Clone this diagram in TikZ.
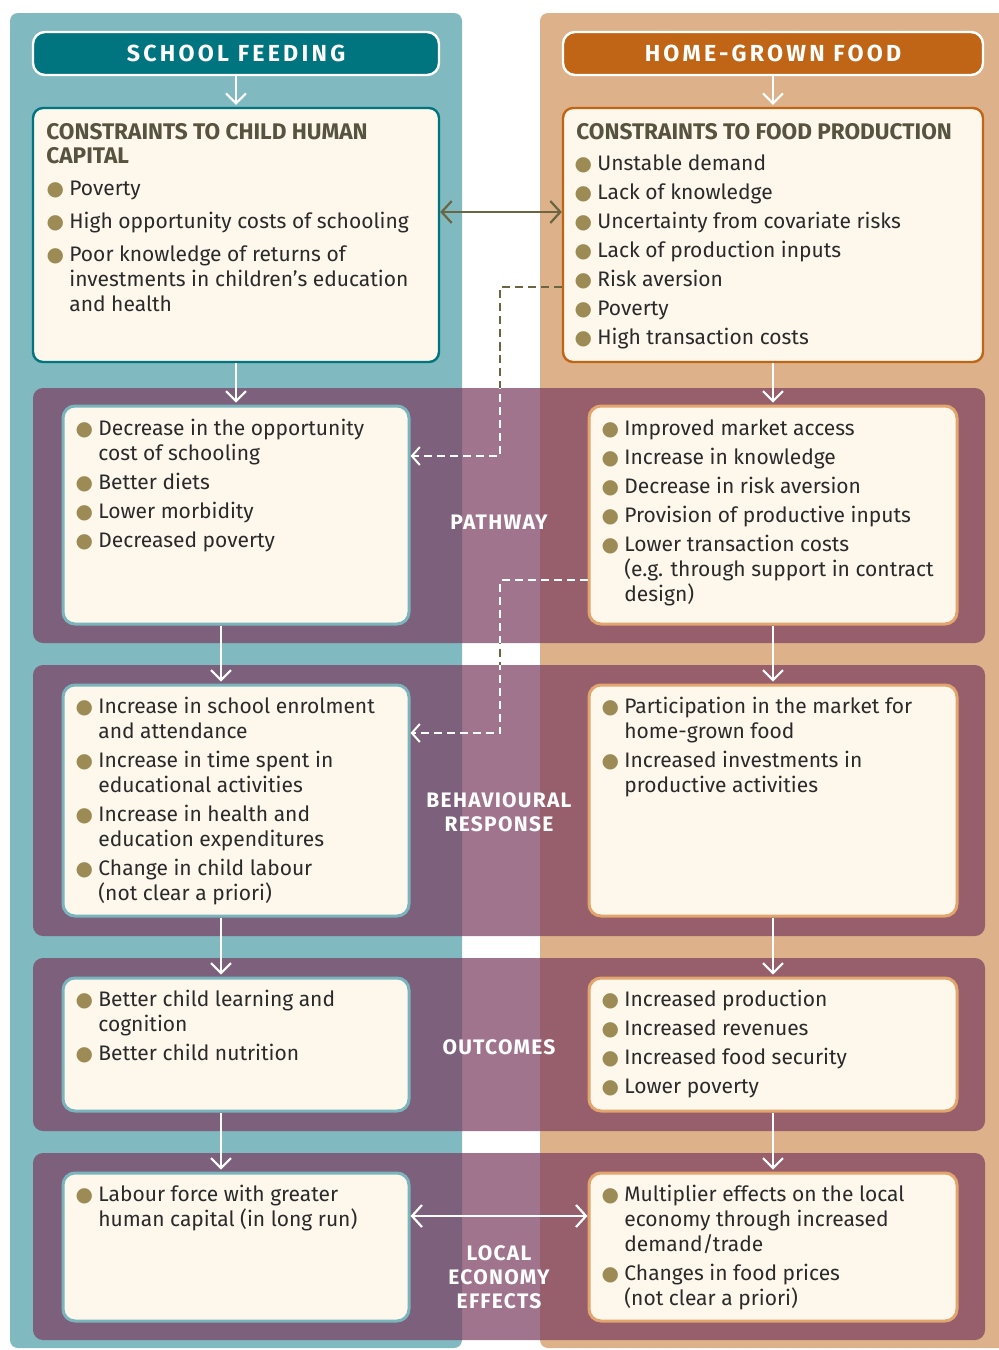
\documentclass[tikz,border=0pt]{standalone}
\usepackage{fontspec}
\setmainfont{Fira Sans}
\newfontfamily\headfont[LetterSpace=14]{Fira Sans}
\newfontfamily\bandfont[LetterSpace=6]{Fira Sans}
\newfontfamily\symfont{DejaVu Sans}
\usetikzlibrary{arrows.meta}
\definecolor{colteal}{HTML}{80B9C0}
\definecolor{coltan}{HTML}{DDB28A}
\definecolor{darkteal}{HTML}{00747F}
\definecolor{burnt}{HTML}{C06516}
\definecolor{cream}{HTML}{FDF7EC}
\definecolor{headgray}{HTML}{56533F}
\definecolor{bodytext}{HTML}{2A2A2A}
\definecolor{dotolive}{HTML}{9C8B55}
\definecolor{arrolive}{HTML}{6B6541}
\definecolor{bandpurple}{HTML}{7C3E61}
\definecolor{boxteal}{HTML}{7AB5BD}
\definecolor{boxtan}{HTML}{E2A56E}
\newcommand{\bul}{\makebox[6pt][c]{\textcolor{dotolive}{\symfont\fontsize{10}{10}\selectfont ●}}}
\newcommand{\blist}[1]{\begin{tabular}[t]{@{}l@{\hspace{4pt}}l@{}}#1\end{tabular}}
\newcommand{\hlines}[1]{\begin{tabular}[t]{@{}l@{}}#1\end{tabular}}
\tikzset{
    titlebox/.style={rectangle, draw=white, line width=1.2pt, rounded corners=6pt, minimum height=21.5pt, text=white, font=\headfont\bfseries\fontsize{11.6}{13}\selectfont},
    conbox/.style={rectangle, fill=cream, line width=1.2pt, rounded corners=5pt, minimum height=127pt},
    inbox/.style={rectangle, fill=cream, line width=1.5pt, rounded corners=6pt},
    band/.style={fill=bandpurple, fill opacity=0.72, rounded corners=5pt},
    bandlab/.style={text=white, align=center, font=\bandfont\bfseries\fontsize{10.5}{12}\selectfont},
    head/.style={anchor=base west, inner sep=0pt, text=headgray, font=\bfseries\fontsize{11.3}{12}\selectfont},
    txt/.style={anchor=base west, inner sep=0pt, text=bodytext, font=\fontsize{10.5}{12.5}\selectfont},
    arr/.style={white, line width=1pt, -{Straight Barb[length=5pt, width=10pt]}, shorten >=1pt},
    dbl/.style={line width=1.1pt, {Straight Barb[length=5pt, width=11pt]}-{Straight Barb[length=5pt, width=11pt]}},
    dashline/.style={dash pattern=on 4pt off 2.5pt, line width=1pt, -{Straight Barb[length=4pt, width=9pt]}},
}
\begin{document}
\begin{tikzpicture}[x=0.5pt, y=-0.5pt]
\useasboundingbox (0,0) rectangle (999,1350);
\clip (0,0) rectangle (999,1350);

% ── Columns ──
\fill[colteal, rounded corners=4pt] (10,13) rectangle (462,1348);
\fill[coltan, rounded corners=4pt] (540,13) rectangle (1010,1348);

% ── Bands ──
\fill[band] (33,388) rectangle (985,643);
\fill[band] (33,665) rectangle (985,936);
\fill[band] (33,958) rectangle (985,1131);
\fill[band] (33,1153) rectangle (985,1340);

\node[bandlab] (lpath) at (499,522) {PATHWAY};
\node[bandlab] (lbeh) at (499,812.5) {BEHAVIOURAL\\RESPONSE};
\node[bandlab] (lout) at (499,1047) {OUTCOMES};
\node[bandlab] (lloc) at (499,1277) {LOCAL\\ECONOMY\\EFFECTS};

% ── Titles ──
\node[titlebox, fill=darkteal, minimum width=203pt] (sf) at (236,53.5) {SCHOOL FEEDING};
\node[titlebox, fill=burnt, minimum width=210pt] (hg) at (773,53.5) {HOME-GROWN FOOD};

% ── Constraints ──
\node[conbox, draw=darkteal, minimum width=203pt] (cL) at (236,235) {};
\node[head] (cLh) at (46,139) {\hlines{CONSTRAINTS TO CHILD HUMAN\\CAPITAL}};
\node[txt] (cLt) at (49,195) {\blist{
\bul & Poverty\\[4pt]
\bul & High opportunity costs of schooling\\[4pt]
\bul & Poor knowledge of returns of\\
 & investments in children’s education\\
 & and health}};

\node[conbox, draw=burnt, minimum width=210pt] (cR) at (773,235) {};
\node[head] (cRh) at (576,139) {\hlines{CONSTRAINTS TO FOOD PRODUCTION}};
\node[txt] (cRt) at (577,170) {\blist{
\bul & Unstable demand\\[2pt]
\bul & Lack of knowledge\\[2pt]
\bul & Uncertainty from covariate risks\\[2pt]
\bul & Lack of production inputs\\[2pt]
\bul & Risk aversion\\[2pt]
\bul & Poverty\\[2pt]
\bul & High transaction costs}};

% ── Pathway ──
\node[inbox, draw=boxteal, minimum width=173pt, minimum height=109pt] (p1) at (236,515) {};
\node[txt] (p1t) at (78,435) {\blist{
\bul & Decrease in the opportunity\\
 & cost of schooling\\[2pt]
\bul & Better diets\\[2pt]
\bul & Lower morbidity\\[2pt]
\bul & Decreased poverty}};

\node[inbox, draw=boxtan, minimum width=184pt, minimum height=109pt] (p2) at (773,515) {};
\node[txt] (p2t) at (604,435) {\blist{
\bul & Improved market access\\[2pt]
\bul & Increase in knowledge\\[2pt]
\bul & Decrease in risk aversion\\[2pt]
\bul & Provision of productive inputs\\[2pt]
\bul & Lower transaction costs\\
 & (e.g. through support in contract\\
 & design)}};

% ── Behavioural response ──
\node[inbox, draw=boxteal, minimum width=173pt, minimum height=115.5pt] (b1) at (236,800.5) {};
\node[txt] (b1t) at (78,713) {\blist{
\bul & Increase in school enrolment\\
 & and attendance\\[2pt]
\bul & Increase in time spent in\\
 & educational activities\\[2pt]
\bul & Increase in health and\\
 & education expenditures\\[2pt]
\bul & Change in child labour\\
 & (not clear a priori)}};

\node[inbox, draw=boxtan, minimum width=184pt, minimum height=115.5pt] (b2) at (773,800.5) {};
\node[txt] (b2t) at (604,713) {\blist{
\bul & Participation in the market for\\
 & home-grown food\\[2pt]
\bul & Increased investments in\\
 & productive activities}};

% ── Outcomes ──
\node[inbox, draw=boxteal, minimum width=173pt, minimum height=66.5pt] (o1) at (236,1044.5) {};
\node[txt] (o1t) at (78,1006) {\blist{
\bul & Better child learning and\\
 & cognition\\[2pt]
\bul & Better child nutrition}};

\node[inbox, draw=boxtan, minimum width=184pt, minimum height=66.5pt] (o2) at (773,1044.5) {};
\node[txt] (o2t) at (604,1006) {\blist{
\bul & Increased production\\[2pt]
\bul & Increased revenues\\[2pt]
\bul & Increased food security\\[2pt]
\bul & Lower poverty}};

% ── Local economy effects ──
\node[inbox, draw=boxteal, minimum width=173pt, minimum height=74pt] (l1) at (236,1247) {};
\node[txt] (l1t) at (78,1201) {\blist{
\bul & Labour force with greater\\
 & human capital (in long run)}};

\node[inbox, draw=boxtan, minimum width=184pt, minimum height=74pt] (l2) at (773,1247) {};
\node[txt] (l2t) at (604,1201) {\blist{
\bul & Multiplier effects on the local\\
 & economy through increased\\
 & demand/trade\\[2pt]
\bul & Changes in food prices\\
 & (not clear a priori)}};

% ── Connections ──
\draw[arr] (sf) -- (cL);
\draw[arr] (hg) -- (cR);
\draw[arr] (cL) -- (p1);
\draw[arr] (cR) -- (p2);
\draw[arr] ([xshift=-7.5pt]p1.south) -- ([xshift=-7.5pt]b1.north);
\draw[arr] ([xshift=-7.5pt]b1.south) -- ([xshift=-7.5pt]o1.north);
\draw[arr] ([xshift=-7.5pt]o1.south) -- ([xshift=-7.5pt]l1.north);
\draw[arr] (p2) -- (b2);
\draw[arr] (b2) -- (o2);
\draw[arr] (o2) -- (l2);

\draw[dbl, arrolive] ([yshift=11.5pt]cL.east) -- ([yshift=11.5pt]cR.west);
\draw[dbl, white] ([yshift=15.5pt]l1.east) -- ([yshift=15.5pt]l2.west);

% dashed links, white where they cross a band
\coordinate (m1) at (500,350);
\coordinate (m2) at (500,650);
\draw[dashline, arrolive] ([yshift=-26pt]cR.west) -| (m1) |- ([yshift=29.5pt]p1.east);
\draw[dashline, arrolive] ([yshift=-32.5pt]p2.west) -| (m2) |- ([yshift=33.75pt]b1.east);
\begin{scope}
\clip (33,388) rectangle (985,643) (33,665) rectangle (985,936);
\draw[dashline, white] ([yshift=-26pt]cR.west) -| (m1) |- ([yshift=29.5pt]p1.east);
\draw[dashline, white] ([yshift=-32.5pt]p2.west) -| (m2) |- ([yshift=33.75pt]b1.east);
\end{scope}

\end{tikzpicture}
\end{document}
